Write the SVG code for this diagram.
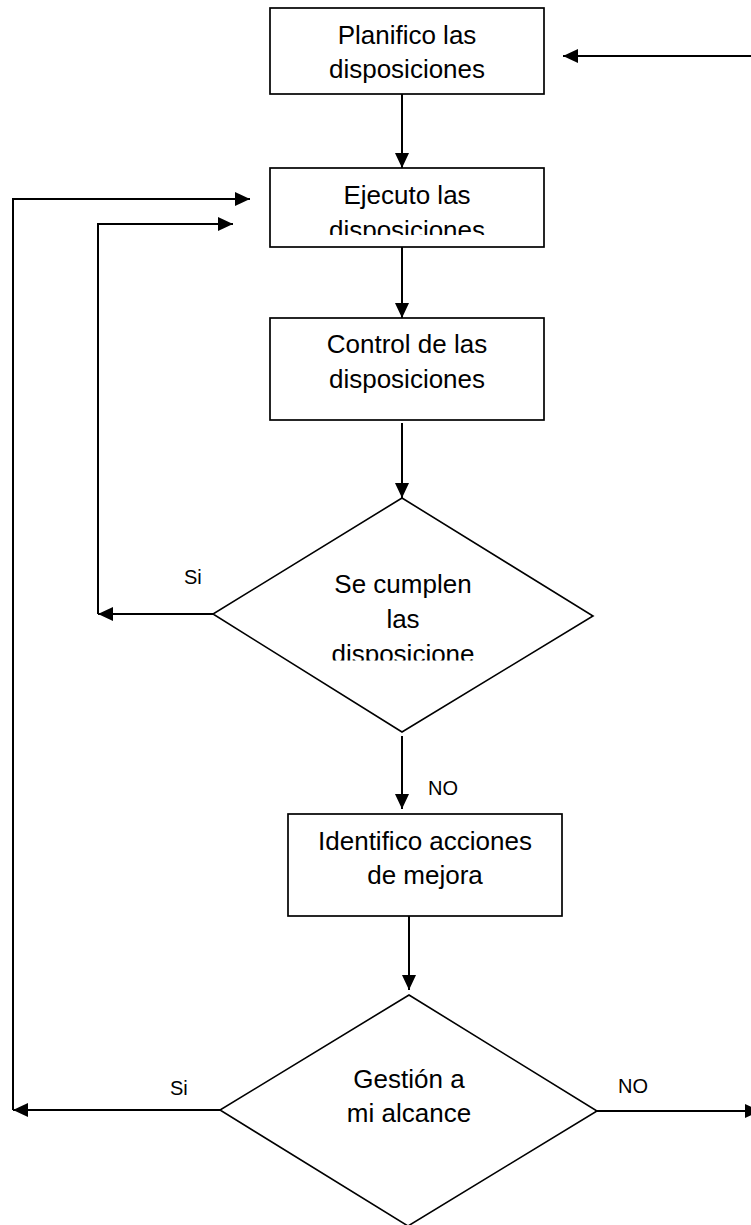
<svg xmlns="http://www.w3.org/2000/svg" width="751" height="1225" viewBox="0 0 751 1225">
  <style>
    .box { fill: #ffffff; stroke: #000000; stroke-width: 1.7; }
    .dec { fill: #ffffff; stroke: #000000; stroke-width: 1.6; }
    .lbl { font-family: "Liberation Sans", Arial, sans-serif; font-size: 26px; fill: #000000; text-anchor: middle; }
    .tag { font-family: "Liberation Sans", Arial, sans-serif; font-size: 20px; fill: #000000; }
    .wire { fill: none; stroke: #000000; stroke-width: 2; }
  </style>
  <defs>
    <marker id="arrow" markerUnits="userSpaceOnUse" markerWidth="16" markerHeight="14" refX="15" refY="7" orient="auto">
      <path d="M0,0 L15,7 L0,14 z" fill="#000000"/>
    </marker>
    <!-- text areas of the shapes; overflowing lines get cut at these edges -->
    <clipPath id="clip-ejecuto"><rect x="270" y="168" width="274" height="67"/></clipPath>
    <clipPath id="clip-cumplen"><rect x="213" y="498" width="380" height="162.5"/></clipPath>
  </defs>

  <rect width="751" height="1225" fill="#ffffff"/>

  <g id="connectors">
    <!-- return from the right into planning -->
    <path class="wire" d="M751,56 H563" marker-end="url(#arrow)"/>
    <!-- main flow -->
    <path class="wire" d="M402,94 V168" marker-end="url(#arrow)"/>
    <path class="wire" d="M402,247 V318" marker-end="url(#arrow)"/>
    <path class="wire" d="M402,423 V498" marker-end="url(#arrow)"/>
    <path class="wire" d="M402,736 V809" marker-end="url(#arrow)"/>
    <path class="wire" d="M409,916 V990" marker-end="url(#arrow)"/>
    <!-- inner loop: disposiciones cumplidas -->
    <path class="wire" d="M213,614 H98" marker-end="url(#arrow)"/>
    <path class="wire" d="M98,614 V224 H233" marker-end="url(#arrow)"/>
    <!-- outer loop: gestión a mi alcance -->
    <path class="wire" d="M220,1110 H13" marker-end="url(#arrow)"/>
    <path class="wire" d="M13,1110 V199 H250" marker-end="url(#arrow)"/>
    <!-- out of scope -->
    <path class="wire" d="M597,1111 H760" marker-end="url(#arrow)"/>
  </g>

  <g id="labels">
    <text class="tag" x="184" y="584">Si</text>
    <text class="tag" x="428" y="795">NO</text>
    <text class="tag" x="170" y="1095">Si</text>
    <text class="tag" x="618" y="1093">NO</text>
  </g>

  <g id="planifico">
    <rect class="box" x="270" y="8" width="274" height="86"/>
    <text class="lbl" x="407" y="44">Planifico las</text>
    <text class="lbl" x="407" y="78">disposiciones</text>
  </g>

  <g id="ejecuto">
    <rect class="box" x="270" y="168" width="274" height="79"/>
    <g clip-path="url(#clip-ejecuto)">
      <text class="lbl" x="407" y="204">Ejecuto las</text>
      <text class="lbl" x="407" y="238.5">disposiciones</text>
    </g>
  </g>

  <g id="control">
    <rect class="box" x="270" y="318" width="274" height="102"/>
    <text class="lbl" x="407" y="353">Control de las</text>
    <text class="lbl" x="407" y="388">disposiciones</text>
  </g>

  <g id="se-cumplen">
    <polygon class="dec" points="402,498 593,616 402,732 213,614"/>
    <g clip-path="url(#clip-cumplen)">
      <text class="lbl" x="403" y="593">Se cumplen</text>
      <text class="lbl" x="403" y="628">las</text>
      <text class="lbl" x="403" y="663">disposicione</text>
    </g>
  </g>

  <g id="identifico">
    <rect class="box" x="288" y="814" width="274" height="102"/>
    <text class="lbl" x="425" y="850">Identifico acciones</text>
    <text class="lbl" x="425" y="884">de mejora</text>
  </g>

  <g id="gestion">
    <polygon class="dec" points="409,995 597,1111 408,1226 220,1110"/>
    <text class="lbl" x="409" y="1088">Gestión a</text>
    <text class="lbl" x="409" y="1122">mi alcance</text>
  </g>
</svg>
